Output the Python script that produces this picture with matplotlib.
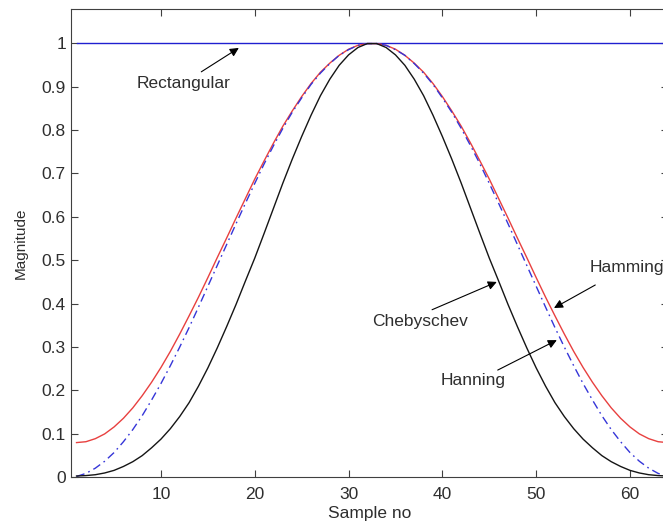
import matplotlib
matplotlib.use("Agg")
import matplotlib.pyplot as plt

plt.rcParams['font.family'] = ['Liberation Sans', 'DejaVu Sans']

# Sample index (window length 64)
samples = list(range(1, 65))

# Window values
rectangular = [1.0, 1.0, 1.0, 1.0, 1.0, 1.0, 1.0, 1.0, 1.0, 1.0, 1.0, 1.0, 1.0, 1.0, 1.0, 1.0,
               1.0, 1.0, 1.0, 1.0, 1.0, 1.0, 1.0, 1.0, 1.0, 1.0, 1.0, 1.0, 1.0, 1.0, 1.0, 1.0,
               1.0, 1.0, 1.0, 1.0, 1.0, 1.0, 1.0, 1.0, 1.0, 1.0, 1.0, 1.0, 1.0, 1.0, 1.0, 1.0,
               1.0, 1.0, 1.0, 1.0, 1.0, 1.0, 1.0, 1.0, 1.0, 1.0, 1.0, 1.0, 1.0, 1.0, 1.0, 1.0]

hamming = [0.080, 0.082, 0.089, 0.100, 0.116, 0.136, 0.160, 0.188, 0.219, 0.253, 0.290,
           0.330, 0.372, 0.415, 0.460, 0.506, 0.551, 0.597, 0.642, 0.687, 0.729, 0.770,
           0.809, 0.844, 0.877, 0.907, 0.933, 0.954, 0.972, 0.986, 0.995, 0.999,
           0.999, 0.995, 0.986, 0.972, 0.954, 0.933, 0.907, 0.877, 0.844, 0.809, 0.770,
           0.729, 0.687, 0.642, 0.597, 0.551, 0.506, 0.460, 0.415, 0.372, 0.330, 0.290,
           0.253, 0.219, 0.188, 0.160, 0.136, 0.116, 0.100, 0.089, 0.082, 0.080]

hanning = [0.002, 0.009, 0.021, 0.037, 0.057, 0.082, 0.110, 0.142, 0.178, 0.216, 0.257,
           0.300, 0.345, 0.392, 0.440, 0.488, 0.536, 0.584, 0.631, 0.677, 0.722, 0.764,
           0.804, 0.841, 0.874, 0.905, 0.931, 0.953, 0.972, 0.985, 0.995, 0.999,
           0.999, 0.995, 0.985, 0.972, 0.953, 0.931, 0.905, 0.874, 0.841, 0.804, 0.764,
           0.722, 0.677, 0.631, 0.584, 0.536, 0.488, 0.440, 0.392, 0.345, 0.300, 0.257,
           0.216, 0.178, 0.142, 0.110, 0.082, 0.057, 0.037, 0.021, 0.009, 0.002]

chebyshev = [0.003, 0.004, 0.006, 0.010, 0.016, 0.025, 0.036, 0.050, 0.068, 0.088, 0.112,
             0.140, 0.172, 0.210, 0.252, 0.298, 0.347, 0.398, 0.452, 0.505, 0.562, 0.620,
             0.678, 0.733, 0.785, 0.834, 0.879, 0.917, 0.949, 0.973, 0.990, 0.999,
             0.999, 0.990, 0.973, 0.949, 0.917, 0.879, 0.834, 0.785, 0.733, 0.678, 0.620,
             0.562, 0.505, 0.452, 0.398, 0.347, 0.298, 0.252, 0.210, 0.172, 0.140, 0.112,
             0.088, 0.068, 0.050, 0.036, 0.025, 0.016, 0.010, 0.006, 0.004, 0.003]

x_ticks = [10, 20, 30, 40, 50, 60]
y_ticks = [0, 0.1, 0.2, 0.3, 0.4, 0.5, 0.6, 0.7, 0.8, 0.9, 1]
y_tick_labels = ['0', '0.1', '0.2', '0.3', '0.4', '0.5', '0.6', '0.7', '0.8', '0.9', '1']

txt_color = '#2e2e2e'

fig = plt.figure(figsize=(6.63, 5.31), dpi=100)
ax = fig.add_axes([0.1078, 0.1011, 0.899, 0.8814])

ax.plot(samples, rectangular, color='#2020d0', lw=1.0)
ax.plot(samples, hamming, color='#e8403f', lw=1.0)
ax.plot(samples, hanning, color='#3535d8', lw=1.0, linestyle=(0, (6, 3, 1.2, 3)))
ax.plot(samples, chebyshev, color='#151515', lw=1.0)

ax.set_xlim(0.46, 64)
ax.set_ylim(0, 1.078)
ax.set_xticks(x_ticks)
ax.set_xticklabels([str(t) for t in x_ticks])
ax.set_yticks(y_ticks)
ax.set_yticklabels(y_tick_labels)

ax.tick_params(direction='in', length=5, width=0.8, colors='#404040', labelcolor=txt_color,
               labelsize=12.5, top=True, right=True)
ax.tick_params(axis='y', which='both', right=True, length=5)
ax.tick_params(axis='x', pad=7)
ax.tick_params(axis='y', pad=4)
for s in ax.spines.values():
    s.set_color('#404040')
    s.set_linewidth(0.8)

ax.set_xlabel('Sample no', fontsize=12.5, color=txt_color, labelpad=3)
ax.set_ylabel('Magnitude', fontsize=11, color=txt_color, labelpad=10)

arrow = dict(arrowstyle='-|>', color='black', lw=0.8, mutation_scale=13, shrinkA=0, shrinkB=0)

# Annotations
ax.text(12.4, 0.908, 'Rectangular', fontsize=12.5, color=txt_color, ha='center', va='center')
ax.annotate('', xy=(18.3, 0.989), xytext=(14.3, 0.934), arrowprops=arrow)

ax.text(55.7, 0.484, 'Hamming', fontsize=12.5, color=txt_color, ha='left', va='center')
ax.annotate('', xy=(51.9, 0.390), xytext=(56.3, 0.443), arrowprops=arrow)

ax.text(37.6, 0.360, 'Chebyschev', fontsize=12.5, color=txt_color, ha='center', va='center')
ax.annotate('', xy=(45.8, 0.450), xytext=(38.9, 0.386), arrowprops=arrow)

ax.text(43.3, 0.224, 'Hanning', fontsize=12.5, color=txt_color, ha='center', va='center')
ax.annotate('', xy=(52.2, 0.316), xytext=(45.9, 0.247), arrowprops=arrow)

fig.savefig('out.png', dpi=100)
